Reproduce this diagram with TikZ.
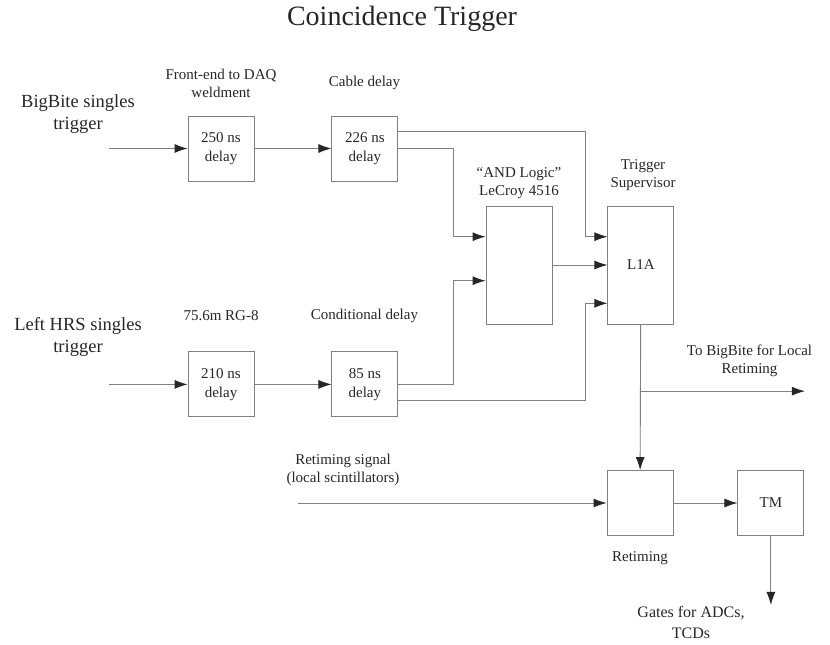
\documentclass[tikz,border=0pt]{standalone}
\usepackage{fontspec}
\setmainfont{Liberation Serif}
\usetikzlibrary{positioning,arrows.meta,calc}

\begin{document}
\begin{tikzpicture}[
  x=1pt, y=-1pt,
  blk/.style={draw=black!50, line width=0.9pt, minimum width=66pt, minimum height=65pt, inner sep=0pt, align=center, text=black!85, font=\fontsize{15}{18.5}\selectfont},
  tall/.style={blk, minimum height=118pt},
  lbl/.style={align=center, text=black!85, font=\fontsize{15}{18}\selectfont},
  big/.style={align=center, text=black!85, font=\fontsize{18.5}{22}\selectfont},
  sig/.style={-{Latex[length=13pt,width=9pt,color=black!85]}, draw=black!50, line width=0.9pt}
]
\useasboundingbox (0,0) rectangle (830,645);

% Title
\node[text=black!85, font=\fontsize{28}{33}\selectfont] (title) at (402,19) {Coincidence Trigger};

% Delay boxes (top row)
\node[blk] (d250) at (221,148.5) {250 ns\\delay};
\node[blk, right=77pt of d250] (d226) {226 ns\\delay};

% Delay boxes (bottom row)
\node[blk, below=170pt of d250] (d210) {210 ns\\delay};
\node[blk, right=77pt of d210] (d85) {85 ns\\delay};

% Logic and supervisor
\node[tall] (and) at (519,265) {};
\node[tall, right=55pt of and] (l1a) {L1A};

% Retiming and TM
\node[blk] (ret) at (640,503) {};
\node[blk, right=64pt of ret] (tm) {TM};

% Inputs and outputs
\node[big] (bbtxt) at (78,114) {BigBite singles\\trigger};
\node[big] (hrstxt) at (78,337) {Left HRS singles\\trigger};
\path (d250.west) ++(-79,0) coordinate (bbin);
\path (d210.west) ++(-79,0) coordinate (hrsin);
\path (ret.west) ++(-309,0) coordinate (rsin);
\path (l1a.south) ++(0,66.7) coordinate (tap);
\path (tap) ++(164,0) coordinate (bbout);
\path (tm.south) ++(0,69) coordinate (gout);

% Labels
\node[lbl] (fetxt) at (221,83) {Front-end to DAQ\\weldment};
\node[lbl] (cbtxt) at (364.5,83) {Cable delay};
\node[lbl] (andtxt) at (519,183) {“AND Logic”\\LeCroy 4516};
\node[lbl] (tstxt) at (643,175.5) {Trigger\\Supervisor};
\node[lbl] (rgtxt) at (221,316) {75.6m RG-8};
\node[lbl] (cdtxt) at (364.5,316) {Conditional delay};
\node[lbl] (rstxt) at (343,470) {Retiming signal\\(local scintillators)};
\node[lbl] (bbotxt) at (749.5,360.5) {To BigBite for Local\\Retiming};
\node[lbl] (rettxt) at (640,558) {Retiming};
\node[lbl, font=\fontsize{16}{21}\selectfont] (gtxt) at (691,622) {Gates for ADCs,\\TCDs};

% Delay chains
\draw[sig] (bbin) -- (d250);
\draw[sig] (d250) -- (d226);
\draw[sig] (hrsin) -- (d210);
\draw[sig] (d210) -- (d85);

% Into the AND
\draw[sig] (d226.east) -- ++(55,0) |- ($(and.west)+(0,-28.3)$);
\draw[sig] (d85.east) -- ++(55,0) |- ($(and.west)+(0,15.7)$);

% Straight to L1A
\draw[sig] ($(d226.east)+(0,-17)$) -- ++(187,0) |- ($(l1a.west)+(0,-28.3)$);
\draw[sig] ($(d85.east)+(0,16)$) -- ++(187,0) |- ($(l1a.west)+(0,38.3)$);
\draw[sig] (and) -- (l1a);

% L1A out, retiming
\draw[sig] (l1a) -- (ret);
\draw[sig] (tap) -- (bbout);
\draw[sig] (rsin) -- (ret);
\draw[sig] (ret) -- (tm);
\draw[sig] (tm) -- (gout);

\end{tikzpicture}
\end{document}
